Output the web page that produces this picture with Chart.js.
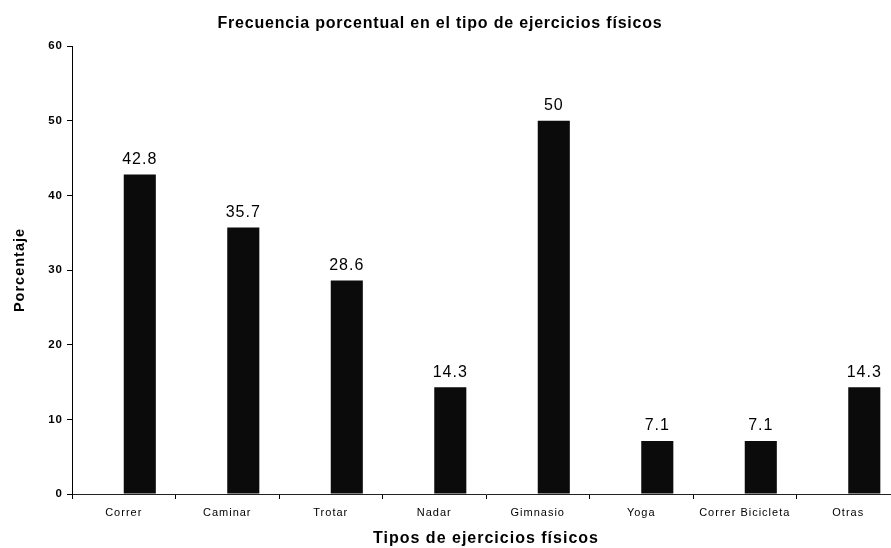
<!DOCTYPE html>
<html>
<head>
<meta charset="utf-8">
<script src="https://cdn.jsdelivr.net/npm/chart.js@4/dist/chart.umd.min.js"></script>
<style>
  html, body { margin: 0; padding: 0; background: #fff; overflow: hidden; }
  #wrap { width: 910px; height: 548px; position: relative; }
</style>
</head>
<body>
<div id="wrap"><canvas id="chart" width="910" height="548"></canvas></div>
<script>
// Exercise types and their share (%)
const categories = ['Correr', 'Caminar', 'Trotar', 'Nadar', 'Gimnasio', 'Yoga', 'Correr Bicicleta', 'Otras'];
const porcentaje = [42.8, 35.7, 28.6, 14.3, 50, 7.1, 7.1, 14.3];
// empty companion series that holds the left slot of each category
const serieVacia = [0, 0, 0, 0, 0, 0, 0, 0];
const yTicks = [0, 10, 20, 30, 40, 50, 60];

const chartTitle = 'Frecuencia porcentual en el tipo de ejercicios físicos';
const xTitle = 'Tipos de ejercicios físicos';
const yTitle = 'Porcentaje';

const FONT = '"Liberation Sans", Arial, sans-serif';

// Slightly open letter spacing for all canvas text
const spacing = {
  id: 'spacing',
  beforeDraw(chart) { chart.ctx.letterSpacing = '1px'; }
};

// Title drawn slightly left of the canvas centre
const titlePlugin = {
  id: 'topTitle',
  afterDraw(chart) {
    const ctx = chart.ctx;
    ctx.save();
    ctx.font = 'bold 16px ' + FONT;
    ctx.letterSpacing = '0.8px';
    ctx.fillStyle = '#000';
    ctx.textAlign = 'center';
    ctx.textBaseline = 'middle';
    ctx.fillText(chartTitle, 440, 24);
    ctx.restore();
  }
};

// Value labels above each bar
const valueLabels = {
  id: 'valueLabels',
  afterDatasetsDraw(chart) {
    const ctx = chart.ctx;
    const meta = chart.getDatasetMeta(1);
    ctx.save();
    ctx.font = '16px ' + FONT;
    ctx.letterSpacing = '1px';
    ctx.fillStyle = '#000';
    ctx.textAlign = 'center';
    ctx.textBaseline = 'bottom';
    meta.data.forEach((bar, i) => {
      ctx.fillText(String(porcentaje[i]), bar.x, bar.y - 7);
    });
    ctx.restore();
  }
};

new Chart(document.getElementById('chart'), {
  type: 'bar',
  data: {
    labels: categories,
    datasets: [
      {
        data: serieVacia,
        backgroundColor: '#000',
        borderWidth: 0,
        categoryPercentage: 0.62,
        barPercentage: 1.0
      },
      {
        data: porcentaje,
        backgroundColor: '#0b0b0b',
        borderWidth: 0,
        categoryPercentage: 0.62,
        barPercentage: 1.0
      }
    ]
  },
  options: {
    responsive: false,
    animation: false,
    devicePixelRatio: 1,
    layout: { padding: { top: 46, right: 10, left: 0, bottom: 0 } },
    plugins: {
      legend: { display: false },
      tooltip: { enabled: false },
      title: { display: false }
    },
    scales: {
      x: {
        offset: true,
        grid: {
          offset: true,
          drawOnChartArea: false,
          drawTicks: true,
          tickLength: 5,
          color: '#000'
        },
        border: { color: '#222', width: 1 },
        ticks: {
          color: '#000',
          font: { family: FONT, size: 11 },
          padding: 7,
          maxRotation: 0,
          autoSkip: false
        },
        title: {
          display: true,
          text: xTitle,
          color: '#000',
          font: { family: FONT, size: 16, weight: 'bold' },
          padding: { top: 0, bottom: 0 }
        },
        afterFit(scale) { scale.height = 54; }
      },
      y: {
        min: 0,
        max: 60,
        afterBuildTicks(scale) {
          scale.ticks = yTicks.map(v => ({ value: v }));
        },
        grid: {
          drawOnChartArea: false,
          drawTicks: true,
          tickLength: 5,
          color: '#000'
        },
        border: { color: '#000', width: 1 },
        ticks: {
          color: '#000',
          font: { family: FONT, size: 11.5, weight: 'bold' },
          padding: 4
        },
        title: {
          display: true,
          text: yTitle,
          color: '#000',
          font: { family: FONT, size: 14.5, weight: 'bold' },
          padding: { top: 11, bottom: 0 }
        },
        afterFit(scale) { scale.width = 72; }
      }
    }
  },
  plugins: [spacing, titlePlugin, valueLabels]
});
</script>
</body>
</html>
